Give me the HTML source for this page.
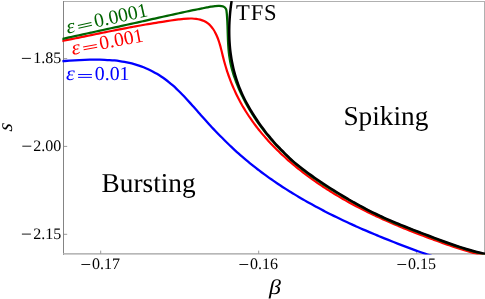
<!DOCTYPE html>
<html><head><meta charset="utf-8">
<style>
html,body{margin:0;padding:0;background:#fff;}
body{width:485px;height:299px;overflow:hidden;position:relative;font-family:"Liberation Serif",serif;}
svg{position:absolute;left:0;top:0;will-change:transform;transform:translateZ(0);}
text{font-family:"Liberation Serif",serif;text-rendering:geometricPrecision;}
</style></head><body>
<svg width="485" height="299" viewBox="0 0 485 299">
<defs><clipPath id="c"><rect x="62.4" y="1" width="422.6" height="253.4"/></clipPath></defs>

<g shape-rendering="crispEdges">
<rect x="63" y="1" width="422" height="1" fill="#b0b0b0"/>
<rect x="484" y="1" width="1" height="253.6" fill="#b0b0b0"/>
<rect x="63" y="1" width="1" height="253.6" fill="#848484"/>
</g>
<rect x="63" y="253.1" width="422" height="1.5" fill="#b0b0b0"/>
<g stroke="#9a9a9a" stroke-width="1" fill="none">
<path d="M64 58.6H67.2 M64 146.4H67.2 M64 234.3H67.2 M100.7 254V250.6 M258.7 254V250.6 M416.7 254V250.6"/>
</g>
<g clip-path="url(#c)" fill="none" stroke-linejoin="round" stroke-linecap="butt">
<path d="M55.06 61.55C55.87 61.51 58.32 61.38 59.95 61.28C61.59 61.19 63.23 61.09 64.88 60.99C66.52 60.89 68.17 60.78 69.82 60.68C71.47 60.58 73.12 60.48 74.78 60.38C76.43 60.29 78.09 60.19 79.75 60.11C81.41 60.03 83.07 59.95 84.73 59.88C86.39 59.82 88.05 59.76 89.72 59.72C91.38 59.67 93.04 59.64 94.71 59.63C96.37 59.62 98.03 59.62 99.70 59.65C101.36 59.67 103.02 59.72 104.68 59.78C106.34 59.85 108.00 59.94 109.66 60.06C111.31 60.17 112.97 60.31 114.62 60.48C116.27 60.65 117.92 60.85 119.57 61.08C121.21 61.32 122.86 61.58 124.49 61.88C126.12 62.17 127.75 62.51 129.36 62.88C130.98 63.24 132.59 63.65 134.18 64.10C135.78 64.54 137.36 65.03 138.93 65.56C140.50 66.08 142.05 66.66 143.59 67.27C145.13 67.88 146.65 68.54 148.15 69.23C149.66 69.92 151.14 70.66 152.61 71.42C154.07 72.19 155.52 73.00 156.94 73.84C158.36 74.68 159.76 75.56 161.14 76.47C162.51 77.38 163.86 78.33 165.19 79.30C166.52 80.28 167.81 81.28 169.09 82.32C170.37 83.35 171.62 84.41 172.86 85.49C174.10 86.58 175.31 87.69 176.51 88.82C177.71 89.94 178.89 91.09 180.06 92.26C181.22 93.43 182.38 94.61 183.52 95.81C184.66 97.00 185.79 98.22 186.92 99.44C188.04 100.66 189.15 101.89 190.26 103.13C191.37 104.36 192.48 105.61 193.58 106.86C194.68 108.10 195.78 109.36 196.88 110.61C197.98 111.86 199.08 113.11 200.18 114.36C201.29 115.60 202.39 116.85 203.50 118.08C204.61 119.32 205.73 120.56 206.85 121.79C207.97 123.02 209.09 124.24 210.22 125.46C211.34 126.68 212.48 127.90 213.61 129.10C214.75 130.31 215.89 131.51 217.04 132.71C218.19 133.90 219.35 135.09 220.51 136.28C221.67 137.46 222.83 138.63 224.01 139.80C225.18 140.97 226.36 142.13 227.55 143.28C228.74 144.43 229.93 145.58 231.13 146.71C232.33 147.85 233.54 148.98 234.76 150.10C235.98 151.21 237.20 152.32 238.44 153.42C239.67 154.52 240.91 155.61 242.17 156.69C243.42 157.77 244.67 158.84 245.94 159.90C247.21 160.97 248.48 162.02 249.76 163.06C251.05 164.11 252.34 165.14 253.63 166.17C254.93 167.19 256.23 168.21 257.55 169.22C258.86 170.23 260.18 171.22 261.50 172.22C262.83 173.21 264.16 174.19 265.50 175.16C266.84 176.13 268.18 177.10 269.53 178.06C270.89 179.01 272.24 179.96 273.61 180.90C274.97 181.84 276.34 182.77 277.72 183.70C279.09 184.62 280.48 185.53 281.86 186.44C283.25 187.35 284.65 188.25 286.04 189.14C287.44 190.03 288.85 190.91 290.26 191.79C291.67 192.67 293.08 193.53 294.50 194.39C295.92 195.26 297.34 196.11 298.77 196.95C300.20 197.80 301.63 198.64 303.07 199.47C304.51 200.30 305.95 201.12 307.40 201.94C308.84 202.75 310.29 203.56 311.75 204.37C313.20 205.17 314.66 205.96 316.12 206.75C317.58 207.54 319.05 208.32 320.52 209.09C321.99 209.87 323.46 210.63 324.93 211.40C326.41 212.16 327.89 212.91 329.37 213.66C330.85 214.41 332.34 215.15 333.82 215.88C335.31 216.62 336.80 217.34 338.29 218.07C339.78 218.79 341.28 219.50 342.77 220.21C344.27 220.92 345.77 221.63 347.27 222.32C348.77 223.02 350.27 223.71 351.78 224.40C353.29 225.09 354.79 225.77 356.30 226.44C357.81 227.12 359.33 227.79 360.84 228.45C362.35 229.12 363.87 229.78 365.39 230.43C366.91 231.09 368.43 231.74 369.95 232.39C371.47 233.03 372.99 233.67 374.52 234.31C376.05 234.95 377.57 235.58 379.10 236.21C380.63 236.84 382.17 237.46 383.70 238.09C385.23 238.71 386.77 239.32 388.31 239.94C389.84 240.55 391.38 241.16 392.92 241.77C394.46 242.38 396.00 242.98 397.55 243.58C399.09 244.18 400.64 244.78 402.19 245.37C403.73 245.97 405.28 246.56 406.84 247.14C408.39 247.72 409.94 248.30 411.50 248.87C413.05 249.45 414.61 250.01 416.17 250.58C417.73 251.14 419.30 251.69 420.86 252.24C422.43 252.78 424.00 253.32 425.57 253.85C427.14 254.39 428.71 254.91 430.29 255.43C431.86 255.94 434.23 256.69 435.02 256.94" stroke="#0000ff" stroke-width="2.3"/>
<path d="M54.95 42.42C55.64 42.28 57.74 41.87 59.13 41.59C60.53 41.31 61.92 41.04 63.31 40.76C64.70 40.48 66.09 40.20 67.47 39.92C68.86 39.64 70.24 39.36 71.62 39.08C73.01 38.80 74.39 38.52 75.77 38.24C77.15 37.96 78.52 37.68 79.90 37.40C81.28 37.12 82.65 36.84 84.03 36.56C85.40 36.27 86.78 35.99 88.15 35.71C89.52 35.43 90.89 35.15 92.27 34.87C93.64 34.59 95.01 34.31 96.38 34.03C97.75 33.75 99.12 33.48 100.49 33.20C101.85 32.92 103.22 32.64 104.59 32.37C105.96 32.09 107.33 31.82 108.70 31.54C110.06 31.27 111.43 31.00 112.80 30.73C114.17 30.45 115.54 30.18 116.91 29.92C118.28 29.65 119.65 29.38 121.01 29.11C122.38 28.85 123.75 28.58 125.13 28.32C126.50 28.06 127.87 27.80 129.24 27.54C130.61 27.28 131.99 27.02 133.36 26.77C134.74 26.52 136.11 26.26 137.49 26.01C138.86 25.76 140.24 25.52 141.62 25.27C143.00 25.02 144.38 24.78 145.76 24.54C147.15 24.30 148.53 24.06 149.92 23.83C151.30 23.59 152.69 23.36 154.08 23.13C155.47 22.90 156.86 22.68 158.25 22.45C159.64 22.23 161.04 22.01 162.44 21.79C163.84 21.57 165.24 21.36 166.64 21.15C168.04 20.94 169.44 20.73 170.85 20.53C172.26 20.33 173.67 20.13 175.08 19.93C176.49 19.74 177.91 19.54 179.33 19.36C180.74 19.18 182.17 19.00 183.58 18.86C184.99 18.73 186.41 18.60 187.81 18.54C189.22 18.48 190.62 18.45 192.00 18.50C193.39 18.55 194.77 18.65 196.13 18.84C197.49 19.04 198.84 19.30 200.16 19.67C201.48 20.05 202.81 20.50 204.05 21.08C205.30 21.66 206.52 22.34 207.63 23.14C208.74 23.94 209.78 24.88 210.72 25.89C211.66 26.91 212.50 28.07 213.28 29.24C214.06 30.41 214.76 31.68 215.40 32.93C216.05 34.19 216.63 35.47 217.17 36.77C217.71 38.06 218.19 39.37 218.64 40.69C219.10 42.01 219.51 43.34 219.90 44.68C220.29 46.02 220.65 47.37 221.00 48.72C221.36 50.07 221.69 51.43 222.03 52.79C222.36 54.15 222.69 55.52 223.03 56.88C223.37 58.24 223.72 59.60 224.08 60.96C224.45 62.32 224.83 63.68 225.22 65.04C225.62 66.39 226.02 67.74 226.45 69.09C226.87 70.44 227.31 71.78 227.76 73.12C228.21 74.46 228.68 75.79 229.16 77.12C229.64 78.45 230.13 79.78 230.64 81.09C231.15 82.41 231.67 83.72 232.21 85.03C232.75 86.33 233.31 87.63 233.87 88.92C234.44 90.21 235.03 91.50 235.62 92.77C236.22 94.04 236.84 95.31 237.46 96.57C238.09 97.82 238.73 99.07 239.39 100.31C240.05 101.55 240.72 102.78 241.41 104.00C242.09 105.22 242.79 106.44 243.51 107.64C244.22 108.84 244.95 110.04 245.69 111.22C246.43 112.41 247.18 113.59 247.95 114.76C248.71 115.93 249.49 117.09 250.29 118.24C251.08 119.39 251.88 120.53 252.70 121.67C253.52 122.80 254.34 123.93 255.19 125.04C256.03 126.16 256.88 127.27 257.74 128.37C258.60 129.47 259.48 130.56 260.36 131.65C261.25 132.73 262.15 133.81 263.05 134.87C263.96 135.94 264.88 137.00 265.81 138.05C266.73 139.10 267.67 140.14 268.62 141.17C269.57 142.21 270.52 143.23 271.49 144.25C272.46 145.26 273.43 146.27 274.42 147.27C275.40 148.27 276.40 149.27 277.40 150.25C278.40 151.24 279.41 152.21 280.43 153.18C281.45 154.15 282.48 155.11 283.52 156.06C284.55 157.01 285.59 157.96 286.64 158.89C287.69 159.83 288.75 160.76 289.82 161.68C290.88 162.60 291.95 163.51 293.03 164.42C294.11 165.32 295.19 166.22 296.29 167.11C297.38 168.00 298.47 168.88 299.58 169.75C300.68 170.62 301.79 171.49 302.90 172.35C304.02 173.21 305.14 174.06 306.26 174.90C307.39 175.74 308.52 176.58 309.65 177.41C310.78 178.23 311.92 179.05 313.07 179.87C314.21 180.68 315.36 181.49 316.52 182.28C317.67 183.08 318.83 183.87 319.99 184.66C321.16 185.44 322.32 186.22 323.50 186.99C324.67 187.76 325.84 188.52 327.02 189.28C328.21 190.03 329.39 190.78 330.58 191.53C331.77 192.27 332.96 193.00 334.16 193.73C335.36 194.46 336.56 195.19 337.76 195.90C338.97 196.62 340.18 197.33 341.39 198.03C342.60 198.74 343.82 199.43 345.04 200.12C346.26 200.82 347.48 201.50 348.71 202.18C349.94 202.86 351.17 203.53 352.40 204.20C353.64 204.86 354.87 205.53 356.11 206.18C357.35 206.84 358.60 207.48 359.84 208.13C361.09 208.77 362.34 209.41 363.59 210.04C364.85 210.67 366.10 211.30 367.36 211.92C368.62 212.54 369.88 213.16 371.14 213.77C372.41 214.38 373.67 214.99 374.94 215.59C376.21 216.19 377.48 216.78 378.76 217.37C380.03 217.96 381.31 218.55 382.59 219.13C383.86 219.71 385.14 220.28 386.43 220.85C387.71 221.42 388.99 221.99 390.28 222.55C391.57 223.11 392.86 223.67 394.15 224.22C395.44 224.77 396.73 225.32 398.03 225.86C399.32 226.41 400.62 226.94 401.91 227.48C403.21 228.01 404.51 228.54 405.81 229.07C407.11 229.60 408.41 230.12 409.72 230.64C411.02 231.16 412.33 231.67 413.63 232.18C414.94 232.70 416.25 233.20 417.56 233.71C418.87 234.21 420.18 234.71 421.49 235.21C422.80 235.71 424.12 236.21 425.43 236.70C426.74 237.19 428.06 237.68 429.38 238.17C430.69 238.66 432.01 239.14 433.33 239.62C434.65 240.10 435.97 240.58 437.29 241.06C438.61 241.54 439.93 242.01 441.25 242.48C442.57 242.96 443.89 243.43 445.22 243.90C446.54 244.36 447.87 244.83 449.19 245.29C450.52 245.75 451.85 246.21 453.18 246.66C454.51 247.11 455.84 247.56 457.17 247.99C458.50 248.43 459.84 248.86 461.18 249.29C462.51 249.71 463.85 250.13 465.20 250.53C466.54 250.94 467.88 251.33 469.23 251.72C470.58 252.10 471.93 252.48 473.29 252.84C474.64 253.20 476.00 253.56 477.36 253.89C478.72 254.23 480.09 254.56 481.46 254.87C482.83 255.17 484.20 255.47 485.58 255.75C486.96 256.03 489.04 256.41 489.73 256.54" stroke="#ff0000" stroke-width="2.2"/>
<path d="M55.01 40.57C55.67 40.42 57.67 39.97 58.99 39.67C60.32 39.37 61.65 39.07 62.99 38.78C64.32 38.48 65.65 38.18 66.98 37.89C68.31 37.59 69.64 37.30 70.97 37.00C72.30 36.71 73.63 36.42 74.97 36.12C76.30 35.83 77.63 35.54 78.96 35.24C80.29 34.95 81.63 34.66 82.96 34.37C84.29 34.08 85.62 33.79 86.96 33.49C88.29 33.20 89.62 32.91 90.96 32.62C92.29 32.33 93.62 32.04 94.95 31.75C96.29 31.46 97.62 31.17 98.95 30.88C100.29 30.59 101.62 30.30 102.95 30.01C104.29 29.72 105.62 29.43 106.95 29.14C108.29 28.85 109.62 28.56 110.95 28.27C112.29 27.98 113.62 27.69 114.95 27.40C116.29 27.11 117.62 26.82 118.95 26.53C120.28 26.23 121.62 25.94 122.95 25.65C124.28 25.36 125.61 25.07 126.95 24.77C128.28 24.48 129.61 24.19 130.94 23.89C132.28 23.60 133.61 23.30 134.94 23.01C136.27 22.71 137.60 22.42 138.93 22.12C140.26 21.83 141.59 21.53 142.92 21.23C144.25 20.93 145.58 20.64 146.92 20.34C148.25 20.04 149.58 19.74 150.91 19.44C152.24 19.14 153.56 18.84 154.89 18.55C156.22 18.25 157.55 17.95 158.88 17.65C160.21 17.35 161.54 17.05 162.87 16.76C164.20 16.46 165.53 16.16 166.86 15.87C168.19 15.57 169.52 15.27 170.86 14.98C172.19 14.69 173.52 14.39 174.85 14.10C176.18 13.81 177.51 13.52 178.84 13.23C180.17 12.94 181.51 12.65 182.84 12.37C184.17 12.08 185.51 11.79 186.84 11.51C188.17 11.23 189.51 10.95 190.84 10.67C192.18 10.39 193.51 10.11 194.85 9.84C196.18 9.57 197.52 9.29 198.86 9.03C200.19 8.76 201.53 8.49 202.87 8.23C204.21 7.96 205.55 7.70 206.89 7.44C208.23 7.18 209.57 6.91 210.91 6.68C212.26 6.44 213.60 6.18 214.97 6.03C216.35 5.89 217.78 5.73 219.17 5.82C220.56 5.90 222.18 5.99 223.32 6.53C224.46 7.07 225.44 8.00 226.00 9.08C226.57 10.15 226.54 11.65 226.71 12.98C226.89 14.32 226.95 15.70 227.05 17.07C227.15 18.43 227.23 19.79 227.30 21.16C227.37 22.52 227.43 23.89 227.48 25.26C227.54 26.63 227.58 28.00 227.62 29.37C227.67 30.73 227.70 32.10 227.74 33.47C227.79 34.84 227.83 36.21 227.88 37.58C227.93 38.95 227.98 40.31 228.04 41.68C228.11 43.04 228.18 44.41 228.27 45.77C228.36 47.13 228.45 48.49 228.58 49.84C228.70 51.20 228.83 52.55 228.99 53.90C229.16 55.25 229.34 56.60 229.55 57.94C229.76 59.28 230.00 60.62 230.26 61.95C230.52 63.29 230.81 64.62 231.13 65.94C231.44 67.26 231.78 68.58 232.15 69.90C232.51 71.21 232.90 72.52 233.30 73.83C233.71 75.13 234.14 76.43 234.59 77.72C235.03 79.01 235.50 80.30 235.98 81.58C236.47 82.86 236.97 84.13 237.49 85.40C238.00 86.67 238.54 87.93 239.08 89.18C239.63 90.44 240.19 91.69 240.77 92.93C241.34 94.17 241.93 95.40 242.53 96.62C243.13 97.85 243.74 99.07 244.37 100.28C245.00 101.49 245.64 102.70 246.29 103.89C246.94 105.09 247.61 106.28 248.29 107.46C248.96 108.65 249.65 109.82 250.36 110.99C251.06 112.16 251.77 113.32 252.50 114.47C253.23 115.62 253.96 116.77 254.71 117.90C255.46 119.04 256.22 120.17 257.00 121.29C257.77 122.41 258.55 123.53 259.35 124.63C260.14 125.74 260.95 126.84 261.77 127.93C262.58 129.02 263.41 130.10 264.25 131.18C265.08 132.25 265.93 133.32 266.79 134.37C267.65 135.43 268.52 136.48 269.40 137.52C270.28 138.57 271.17 139.60 272.07 140.63C272.96 141.65 273.87 142.67 274.79 143.68C275.71 144.69 276.63 145.69 277.57 146.68C278.51 147.67 279.45 148.66 280.41 149.63C281.36 150.60 282.32 151.57 283.30 152.53C284.27 153.49 285.25 154.44 286.24 155.38C287.23 156.32 288.22 157.25 289.23 158.17C290.23 159.09 291.25 160.01 292.27 160.91C293.29 161.82 294.32 162.71 295.36 163.60C296.39 164.49 297.44 165.37 298.49 166.24C299.54 167.11 300.60 167.97 301.66 168.82C302.73 169.67 303.80 170.51 304.88 171.34C305.96 172.17 307.05 173.00 308.14 173.81C309.23 174.63 310.33 175.43 311.44 176.23C312.54 177.03 313.65 177.82 314.77 178.60C315.88 179.39 317.00 180.16 318.13 180.93C319.26 181.70 320.39 182.46 321.52 183.21C322.66 183.97 323.80 184.71 324.95 185.46C326.09 186.20 327.24 186.93 328.39 187.66C329.55 188.39 330.70 189.11 331.86 189.83C333.02 190.55 334.19 191.26 335.36 191.97C336.52 192.68 337.69 193.38 338.87 194.08C340.04 194.78 341.21 195.47 342.39 196.16C343.57 196.85 344.75 197.54 345.93 198.22C347.11 198.91 348.30 199.58 349.48 200.26C350.67 200.94 351.85 201.61 353.04 202.28C354.23 202.95 355.42 203.61 356.62 204.27C357.81 204.93 359.00 205.59 360.20 206.24C361.40 206.89 362.60 207.54 363.80 208.18C365.00 208.82 366.21 209.46 367.41 210.09C368.62 210.72 369.83 211.35 371.05 211.97C372.26 212.59 373.48 213.20 374.70 213.80C375.91 214.41 377.14 215.01 378.36 215.60C379.59 216.20 380.82 216.78 382.05 217.36C383.29 217.94 384.52 218.51 385.76 219.07C387.01 219.64 388.25 220.19 389.50 220.74C390.75 221.29 392.00 221.82 393.26 222.35C394.52 222.88 395.78 223.41 397.04 223.92C398.31 224.44 399.57 224.94 400.84 225.45C402.11 225.95 403.39 226.45 404.66 226.94C405.93 227.44 407.21 227.93 408.48 228.42C409.76 228.91 411.04 229.39 412.31 229.88C413.59 230.37 414.87 230.85 416.14 231.34C417.42 231.82 418.69 232.31 419.96 232.80C421.24 233.29 422.51 233.78 423.78 234.27C425.05 234.76 426.32 235.25 427.59 235.74C428.87 236.23 430.14 236.72 431.41 237.21C432.68 237.69 433.95 238.18 435.23 238.66C436.50 239.15 437.78 239.63 439.05 240.11C440.33 240.58 441.61 241.06 442.89 241.53C444.17 242.00 445.45 242.46 446.73 242.92C448.02 243.38 449.30 243.84 450.59 244.29C451.88 244.74 453.17 245.18 454.46 245.62C455.75 246.06 457.05 246.49 458.35 246.91C459.64 247.34 460.94 247.75 462.25 248.16C463.55 248.57 464.85 248.97 466.16 249.36C467.47 249.75 468.78 250.14 470.09 250.51C471.40 250.88 472.71 251.24 474.03 251.59C475.35 251.95 476.67 252.29 477.99 252.62C479.31 252.95 480.64 253.27 481.97 253.57C483.30 253.88 484.63 254.17 485.96 254.46C487.29 254.74 489.30 255.13 489.97 255.26" stroke="#006400" stroke-width="2.25"/>
<path d="M231.61 1.02C231.51 1.76 231.17 3.97 230.98 5.44C230.78 6.92 230.60 8.40 230.44 9.88C230.27 11.37 230.12 12.86 229.99 14.35C229.86 15.84 229.74 17.33 229.64 18.82C229.54 20.32 229.46 21.82 229.40 23.32C229.33 24.81 229.29 26.31 229.26 27.81C229.23 29.31 229.22 30.81 229.23 32.31C229.23 33.81 229.26 35.32 229.31 36.82C229.35 38.31 229.42 39.81 229.50 41.31C229.59 42.81 229.69 44.31 229.82 45.80C229.94 47.29 230.09 48.79 230.25 50.27C230.42 51.76 230.61 53.25 230.82 54.73C231.03 56.22 231.26 57.69 231.51 59.17C231.76 60.64 232.04 62.12 232.34 63.58C232.63 65.05 232.95 66.51 233.29 67.96C233.63 69.42 234.00 70.87 234.39 72.31C234.77 73.76 235.18 75.20 235.61 76.63C236.04 78.06 236.50 79.48 236.97 80.90C237.45 82.32 237.95 83.73 238.47 85.13C238.99 86.53 239.53 87.92 240.10 89.30C240.66 90.69 241.25 92.06 241.87 93.43C242.48 94.80 243.11 96.15 243.77 97.50C244.42 98.85 245.10 100.19 245.79 101.51C246.48 102.84 247.20 104.16 247.93 105.47C248.66 106.78 249.41 108.09 250.17 109.38C250.93 110.67 251.71 111.95 252.51 113.23C253.30 114.50 254.11 115.77 254.92 117.02C255.74 118.28 256.58 119.52 257.42 120.76C258.26 122.00 259.11 123.23 259.98 124.45C260.84 125.67 261.72 126.88 262.61 128.08C263.50 129.28 264.40 130.47 265.31 131.65C266.23 132.83 267.15 134.00 268.10 135.16C269.04 136.31 269.99 137.46 270.96 138.60C271.93 139.73 272.91 140.86 273.90 141.97C274.90 143.09 275.91 144.19 276.94 145.28C277.96 146.37 279.01 147.45 280.05 148.52C281.10 149.59 282.16 150.66 283.22 151.72C284.28 152.78 285.33 153.85 286.40 154.90C287.46 155.95 288.52 157.01 289.61 158.04C290.69 159.07 291.78 160.09 292.89 161.09C294.00 162.08 295.13 163.06 296.28 164.01C297.42 164.97 298.58 165.91 299.75 166.84C300.92 167.76 302.11 168.67 303.30 169.57C304.49 170.48 305.69 171.37 306.90 172.25C308.11 173.14 309.32 174.01 310.54 174.88C311.76 175.75 312.98 176.62 314.21 177.47C315.44 178.33 316.68 179.18 317.92 180.02C319.16 180.86 320.40 181.70 321.65 182.53C322.90 183.36 324.15 184.18 325.41 185.00C326.67 185.82 327.93 186.63 329.19 187.44C330.45 188.25 331.72 189.05 332.99 189.85C334.26 190.65 335.53 191.45 336.81 192.24C338.08 193.03 339.36 193.81 340.64 194.59C341.92 195.37 343.20 196.15 344.49 196.92C345.77 197.69 347.06 198.45 348.35 199.21C349.64 199.96 350.94 200.72 352.24 201.46C353.53 202.20 354.84 202.94 356.14 203.67C357.45 204.40 358.76 205.12 360.07 205.84C361.39 206.55 362.70 207.26 364.03 207.96C365.35 208.66 366.67 209.35 368.00 210.03C369.34 210.71 370.67 211.38 372.01 212.04C373.35 212.70 374.70 213.36 376.05 214.00C377.39 214.65 378.75 215.28 380.10 215.91C381.46 216.54 382.82 217.16 384.19 217.78C385.55 218.39 386.92 219.00 388.29 219.60C389.66 220.20 391.03 220.80 392.41 221.38C393.79 221.97 395.17 222.55 396.55 223.13C397.93 223.71 399.32 224.28 400.70 224.85C402.09 225.41 403.48 225.97 404.87 226.53C406.26 227.09 407.65 227.64 409.05 228.19C410.44 228.74 411.84 229.29 413.24 229.83C414.63 230.38 416.03 230.92 417.43 231.46C418.83 232.00 420.23 232.53 421.63 233.07C423.03 233.60 424.43 234.13 425.83 234.66C427.23 235.20 428.64 235.73 430.04 236.26C431.44 236.79 432.84 237.32 434.24 237.84C435.64 238.37 437.04 238.90 438.45 239.42C439.85 239.94 441.25 240.46 442.66 240.98C444.06 241.49 445.47 242.00 446.88 242.51C448.28 243.01 449.69 243.51 451.10 244.01C452.52 244.50 453.93 244.99 455.34 245.47C456.76 245.95 458.18 246.42 459.60 246.88C461.02 247.34 462.45 247.80 463.88 248.24C465.30 248.68 466.74 249.12 468.17 249.54C469.61 249.96 471.05 250.37 472.49 250.77C473.93 251.16 475.38 251.55 476.83 251.92C478.29 252.29 479.75 252.65 481.21 252.99C482.67 253.33 484.14 253.66 485.61 253.97C487.09 254.28 489.32 254.70 490.06 254.85" stroke="#000" stroke-width="2.5"/>
</g>
<g font-size="16" fill="#000">
<text x="61.3" y="62.9" text-anchor="end">1.85</text>
<text x="61.3" y="150.7" text-anchor="end">2.00</text>
<text x="61.3" y="238.6" text-anchor="end">2.15</text>
<text x="91.9" y="269">0.17</text>
<text x="249.9" y="269">0.16</text>
<text x="407.9" y="269">0.15</text>
</g>
<path d="M21.9 58.4H30.9 M22.3 146.2H31.3 M21.9 234.1H30.9 M81.4 264.5H90.2 M239.4 264.5H248.2 M397.4 264.5H406.2" stroke="#000" stroke-width="0.9" fill="none"/>
<text transform="translate(268.9,293.8) scale(1.14,1)" font-size="21" font-style="italic">β</text>
<text transform="translate(11.8,131.7) rotate(-90) skewX(-8)" font-size="20.8" font-style="italic">s</text>
<text x="236" y="20" font-size="22.6" textLength="40.6" lengthAdjust="spacing">TFS</text>
<text x="343.4" y="125" font-size="27.3">Spiking</text>
<text x="101.6" y="192.4" font-size="27.3">Bursting</text>
<g transform="translate(66.70,80.30) rotate(0.00)" fill="#0000ff"><text transform="translate(-0.6,0) scale(1.1,1)" font-size="20.30" font-style="italic">ε</text><path d="M11.4 -5.75H25.2 M11.4 -2.95H25.2" stroke="#0000ff" stroke-width="1" fill="none"/><text x="28.1" y="0" font-size="19.80">0.01</text></g>
<g transform="translate(73.00,54.90) rotate(-10.80)" fill="#ff0000"><text transform="translate(-0.6,0) scale(1.1,1)" font-size="20.30" font-style="italic">ε</text><path d="M11.4 -5.75H25.2 M11.4 -2.95H25.2" stroke="#ff0000" stroke-width="1" fill="none"/><text x="28.1" y="0" font-size="19.80">0.001</text></g>
<g transform="translate(68.00,33.60) rotate(-12.40)" fill="#006400"><text transform="translate(-0.6,0) scale(1.1,1)" font-size="20.30" font-style="italic">ε</text><path d="M11.4 -5.75H25.2 M11.4 -2.95H25.2" stroke="#006400" stroke-width="1" fill="none"/><text x="28.1" y="0" font-size="19.80">0.0001</text></g>
</svg>
</body></html>
